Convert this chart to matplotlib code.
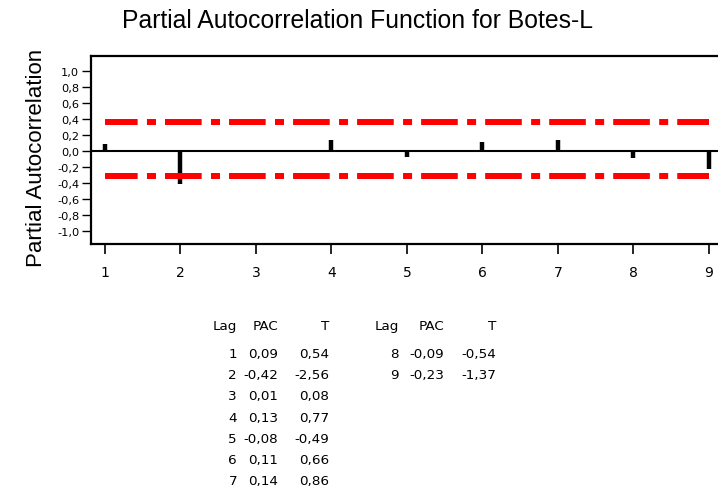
import matplotlib
matplotlib.use("Agg")
import matplotlib.pyplot as plt

plt.rcParams['font.family'] = ['Liberation Sans', 'DejaVu Sans']
plt.rcParams['lines.scale_dashes'] = False

lags = [1, 2, 3, 4, 5, 6, 7, 8, 9]
pac = [0.09, -0.42, 0.01, 0.13, -0.08, 0.11, 0.14, -0.09, -0.23]
tval = [0.54, -2.56, 0.08, 0.77, -0.49, 0.66, 0.86, -0.54, -1.37]
upper_limit = 0.355
lower_limit = -0.32
ytick_vals = [1.0, 0.8, 0.6, 0.4, 0.2, 0.0, -0.2, -0.4, -0.6, -0.8, -1.0]
ytick_labels = ["1,0", "0,8", "0,6", "0,4", "0,2", "0,0", "-0,2", "-0,4", "-0,6", "-0,8", "-1,0"]

def fmt(v):
    return f"{v:.2f}".replace(".", ",")

W, H = 718, 489
fig = plt.figure(figsize=(W / 100, H / 100), dpi=100)
ax = fig.add_axes([91 / W, 1 - 245 / H, 1 - 91 / W, (245 - 57) / H])

ax.set_xlim(0.815, 9.12)
ax.set_ylim(-1.166, 1.184)

ax.axhline(0, color='black', lw=1.5, zorder=2)
ax.vlines(lags, 0, pac, color='black', lw=3.2, zorder=3)

dash = (2.9, (26.4, 6.7, 6.5, 6.5))
ax.plot([lags[0], lags[-1]], [upper_limit, upper_limit], color='#ff0000', lw=4.3,
        linestyle=dash, solid_capstyle='butt', dash_capstyle='butt', zorder=4)
ax.plot([lags[0], lags[-1]], [lower_limit, lower_limit], color='#ff0000', lw=4.3,
        linestyle=dash, solid_capstyle='butt', dash_capstyle='butt', zorder=4)

ax.set_yticks(ytick_vals)
ax.set_yticklabels(ytick_labels, fontsize=8.2, family=['DejaVu Sans'])
ax.set_xticks(lags)
ax.set_xticklabels([str(l) for l in lags], fontsize=10, family=['DejaVu Sans'])
ax.tick_params(axis='y', direction='out', length=6.5, width=1.0, pad=2)
ax.tick_params(axis='x', direction='out', length=7, width=1.2, pad=8)

for s in ['left', 'top', 'bottom']:
    ax.spines[s].set_linewidth(1.6)
ax.spines['right'].set_visible(False)

fig.text(358 / W, 1 - 21 / H, "Partial Autocorrelation Function for Botes-L",
         ha='center', va='center', fontsize=17.8)
fig.text(37 / W, 1 - 158 / H, "Partial Autocorrelation", rotation=90,
         ha='center', va='center', fontsize=16)

# Table (baselines in pixels from top)
fs = 9.7
tfam = ['DejaVu Sans']
head_base = 330
row1_base = 358
dy = 21.2
cols1 = [237, 278, 329]
cols2 = [399, 444, 496]
headers = ["Lag", "PAC", "T"]
for cols, start, stop in [(cols1, 0, 7), (cols2, 7, 9)]:
    for c, h in zip(cols, headers):
        fig.text(c / W, 1 - head_base / H, h, ha='right', va='baseline', fontsize=fs, family=tfam)
    for i, k in enumerate(range(start, stop)):
        y = row1_base + i * dy
        fig.text(cols[0] / W, 1 - y / H, str(lags[k]), ha='right', va='baseline', fontsize=fs, family=tfam)
        fig.text(cols[1] / W, 1 - y / H, fmt(pac[k]), ha='right', va='baseline', fontsize=fs, family=tfam)
        fig.text(cols[2] / W, 1 - y / H, fmt(tval[k]), ha='right', va='baseline', fontsize=fs, family=tfam)

fig.savefig("out.png", dpi=100)
